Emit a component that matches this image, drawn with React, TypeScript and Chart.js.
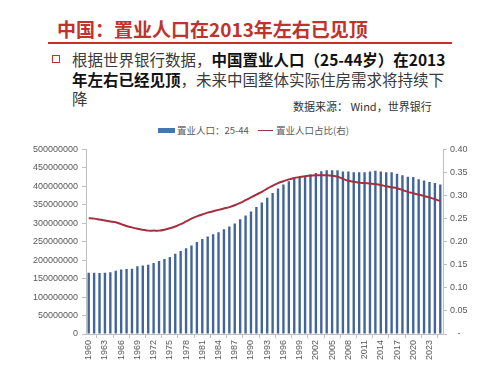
import React, { useEffect, useRef } from 'react';
import { Chart, registerables } from 'chart.js';

Chart.register(...registerables);

const years = [
  '1960', '1961', '1962', '1963', '1964', '1965', '1966', '1967', '1968', '1969',
  '1970', '1971', '1972', '1973', '1974', '1975', '1976', '1977', '1978', '1979',
  '1980', '1981', '1982', '1983', '1984', '1985', '1986', '1987', '1988', '1989',
  '1990', '1991', '1992', '1993', '1994', '1995', '1996', '1997', '1998', '1999',
  '2000', '2001', '2002', '2003', '2004', '2005', '2006', '2007', '2008', '2009',
  '2010', '2011', '2012', '2013', '2014', '2015', '2016', '2017', '2018', '2019',
  '2020', '2021', '2022', '2023', '2024', '2025',
];

// 置业人口：25-44
const population = [
  165.6e6, 165.6e6, 165.5e6, 165.6e6, 167.5e6, 171e6, 174.5e6, 176.3e6, 176.5e6, 183.5e6,
  185.5e6, 187.5e6, 192.5e6, 197.8e6, 203.2e6, 208.6e6, 217.5e6, 224.7e6, 232e6, 240e6,
  249e6, 257e6, 264e6, 270e6, 275.5e6, 284e6, 291.5e6, 299.5e6, 311e6, 321e6,
  332e6, 344e6, 356e6, 369e6, 382e6, 394e6, 405e6, 414e6, 422e6, 425e6,
  427.5e6, 432.5e6, 436e6, 441e6, 443.5e6, 443.5e6, 443.5e6, 440e6, 440e6, 438e6,
  438e6, 438e6, 440e6, 442e6, 440e6, 438e6, 438e6, 434e6, 430e6, 426e6,
  425e6, 419e6, 416e6, 412e6, 409e6, 405e6,
];

// 置业人口占比(右)
const share = [
  0.251, 0.25, 0.248, 0.246, 0.244, 0.242, 0.238, 0.234, 0.231, 0.228,
  0.226, 0.224, 0.224, 0.224, 0.226, 0.229, 0.233, 0.238, 0.244, 0.25,
  0.255, 0.259, 0.263, 0.266, 0.269, 0.272, 0.275, 0.279, 0.284, 0.29,
  0.296, 0.302, 0.308, 0.315, 0.321, 0.327, 0.331, 0.335, 0.338, 0.34,
  0.342, 0.343, 0.344, 0.344, 0.344, 0.343, 0.341, 0.336, 0.332, 0.33,
  0.328, 0.327, 0.326, 0.325, 0.323, 0.32, 0.318, 0.316, 0.312, 0.308,
  0.305, 0.302, 0.299, 0.296, 0.292, 0.288,
];

const leftTickStep = 50000000;
const rightTickStep = 0.05;

const RED = '#c0322b';
const BAR = '#41659a';
const LINE = '#a3303f';
const AXIS = '#bfbfbf';
const TICK_TEXT = '#595959';
const TICK_FONT = { family: '"Liberation Sans", Arial, sans-serif', size: 9 };

export default function App() {
  const ref = useRef<HTMLCanvasElement>(null);

  useEffect(() => {
    const chart = new Chart(ref.current!, {
      type: 'bar',
      data: {
        labels: years,
        datasets: [
          {
            type: 'line',
            label: '置业人口占比(右)',
            data: share,
            yAxisID: 'y1',
            borderColor: LINE,
            borderWidth: 2,
            pointRadius: 0,
            tension: 0.3,
            order: 0,
          } as any,
          {
            type: 'bar',
            label: '置业人口：25-44',
            data: population,
            yAxisID: 'y',
            backgroundColor: BAR,
            barPercentage: 0.44,
            categoryPercentage: 1,
            order: 1,
          } as any,
        ],
      },
      options: {
        animation: false,
        responsive: false,
        maintainAspectRatio: false,
        layout: { padding: { top: 8, left: 0, right: 0, bottom: 0 } },
        plugins: { legend: { display: false }, tooltip: { enabled: false } },
        scales: {
          x: {
            grid: { drawOnChartArea: false, drawTicks: true, tickLength: 4, color: AXIS },
            border: { color: AXIS },
            ticks: {
              autoSkip: false,
              minRotation: 90,
              maxRotation: 90,
              padding: 2,
              color: TICK_TEXT,
              font: TICK_FONT,
              callback: (_v: any, i: number) => (i % 3 === 0 ? years[i] : null),
            },
            afterFit: (s: any) => {
              s.height = 38;
            },
          },
          y: {
            position: 'left',
            min: 0,
            max: 500000000,
            grid: { drawOnChartArea: false, drawTicks: true, tickLength: 4, color: AXIS },
            border: { color: AXIS },
            ticks: {
              stepSize: leftTickStep,
              padding: 4,
              color: TICK_TEXT,
              font: TICK_FONT,
              callback: (v: any) => String(Math.round(Number(v))),
            },
            afterFit: (s: any) => {
              s.width = 86;
            },
          },
          y1: {
            position: 'right',
            min: 0,
            max: 0.4,
            grid: { drawOnChartArea: false, drawTicks: true, tickLength: 4, color: AXIS },
            border: { color: AXIS },
            ticks: {
              stepSize: rightTickStep,
              padding: 3,
              color: TICK_TEXT,
              font: TICK_FONT,
              callback: (v: any) => (Number(v) === 0 ? '   -' : Number(v).toFixed(2)),
            },
            afterFit: (s: any) => {
              s.width = 55;
            },
          },
        },
      },
    });
    return () => chart.destroy();
  }, []);

  const sans = '"Noto Sans CJK SC", "Noto Sans", sans-serif';

  return (
    <div
      style={{
        position: 'fixed',
        left: 0,
        top: 0,
        width: 498,
        height: 372,
        background: '#ffffff',
        overflow: 'hidden',
        fontFamily: sans,
      }}
    >
      <div
        style={{
          position: 'absolute',
          left: 57,
          top: 19,
          fontSize: 19,
          lineHeight: '19px',
          fontWeight: 700,
          color: RED,
          whiteSpace: 'nowrap',
        }}
      >
        中国：置业人口在2013年左右已见顶
      </div>
      <div style={{ position: 'absolute', left: 48, top: 42, width: 404, height: 2, background: RED }} />
      <div
        style={{
          position: 'absolute',
          left: 52,
          top: 55,
          width: 6,
          height: 6,
          border: `1.5px solid ${RED}`,
        }}
      />
      <div
        style={{
          position: 'absolute',
          left: 72,
          top: 50,
          fontSize: 15.5,
          lineHeight: '19.5px',
          color: '#3a3a3a',
          whiteSpace: 'nowrap',
        }}
      >
        根据世界银行数据，<b style={{ color: '#111' }}>中国置业人口（25-44岁）在2013</b>
        <br />
        <b style={{ color: '#111' }}>年左右已经见顶</b>，未来中国整体实际住房需求将持续下
        <br />
        降
      </div>
      <div
        style={{
          position: 'absolute',
          left: 293,
          top: 99,
          fontSize: 11,
          lineHeight: '14px',
          color: '#333',
          whiteSpace: 'nowrap',
        }}
      >
        数据来源： Wind，世界银行
      </div>
      <div style={{ position: 'absolute', left: 158, top: 128, width: 17, height: 5, background: '#4a74b0' }} />
      <div
        style={{
          position: 'absolute',
          left: 177,
          top: 124,
          fontSize: 9.5,
          lineHeight: '12px',
          color: TICK_TEXT,
          whiteSpace: 'nowrap',
        }}
      >
        置业人口：25-44
      </div>
      <div style={{ position: 'absolute', left: 258, top: 129.5, width: 15, height: 1.5, background: LINE }} />
      <div
        style={{
          position: 'absolute',
          left: 276,
          top: 124,
          fontSize: 9.5,
          lineHeight: '12px',
          color: TICK_TEXT,
          whiteSpace: 'nowrap',
        }}
      >
        置业人口占比(右)
      </div>
      <canvas
        ref={ref}
        width={498}
        height={232}
        style={{ position: 'absolute', left: 0, top: 140, width: 498, height: 232 }}
      />
    </div>
  );
}
